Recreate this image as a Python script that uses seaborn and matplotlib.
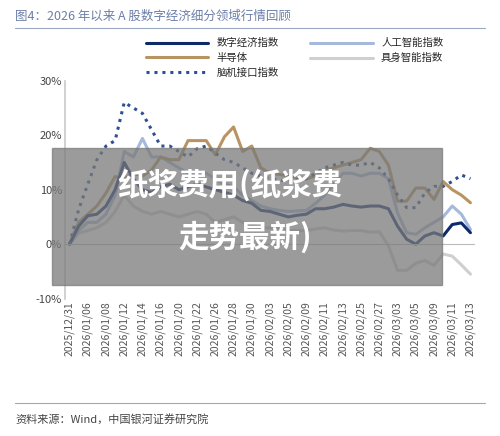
import matplotlib
matplotlib.use("Agg")
import matplotlib.pyplot as plt
import seaborn as sns
import pandas as pd
import numpy as np
from matplotlib.patches import Rectangle

sns.set_theme(style="white")
plt.rcParams['font.family'] = ['Noto Sans CJK SC', 'DejaVu Sans']

tick_labels = ["2025/12/31","2026/01/06","2026/01/08","2026/01/12","2026/01/14","2026/01/16",
               "2026/01/20","2026/01/22","2026/01/26","2026/01/28","2026/01/30","2026/02/03",
               "2026/02/05","2026/02/09","2026/02/11","2026/02/13","2026/02/25","2026/02/27",
               "2026/03/03","2026/03/05","2026/03/09","2026/03/11","2026/03/13"]
digital = [0,3.3,5.2,5.5,7,10,15,12,10,9.5,10.5,11,10,10.5,11,10.5,10,9.5,9,8,7.5,6.2,6,5.5,5,5.3,5.5,6.5,6.5,6.8,7.3,7,6.8,7,7,6.5,3.3,0.9,0,1.5,2.1,1.5,3.6,3.9,2.1]
ai = [0,2.5,4,4,5.5,9,17,16,19.4,16,16,15,14,13,13.5,13,12,11,10.5,9,8,7,6.5,6.2,6,6.1,6.2,7.5,9,11,13,13,12.5,13,13,12,5.7,2.1,1.8,3,4,5,7,5.5,2.7]
semi = [0,4,5.5,7,9.4,12.4,12,13,12.5,13.6,16,15.5,15.5,19,19,19,16.4,19.7,21.5,17,18,14,13,12.8,12.5,12.2,12,12.5,13.5,14,14.5,15,15.5,17.6,17,14.5,7.9,7.9,10.3,10.3,8.2,11.5,10,9,7.6]
embodied = [0,2,2.5,3,4,6,9,7,6,5.5,6,5.5,5,5.5,6,5.5,4,4.5,5,4,3.5,3,3,2.8,2.5,2.5,2.5,2.8,3,2.6,2.4,2.5,2.5,2.2,2.3,-0.3,-4.8,-4.8,-3.5,-3,-3.9,-1.8,-2.2,-3.8,-5.5]
bci = [0,6.4,11,15.5,18,19,26,25,24,21,18,18,17,16,17.5,18,16.7,15.5,15,14,13,12.5,12,11.8,11.5,11.8,12,13,14,14.5,15,14.5,14.5,15,14,12,9,6.7,6.7,9.4,10.6,10.6,11.5,12.7,12]
series_names = ["数字经济指数","人工智能指数","半导体","具身智能指数","脑机接口指数"]

n = len(digital)
df = pd.DataFrame({"i": np.arange(n)})
for nm, v in zip(series_names, [digital, ai, semi, embodied, bci]):
    df[nm] = np.array(v) / 100
long = df.melt(id_vars="i", var_name="s", value_name="v")

fig = plt.figure(figsize=(5.0, 4.36), dpi=100)
ax = fig.add_axes([0.13, 0.315, 0.82, 0.5])
palette = {"数字经济指数": "#0d2a6b", "人工智能指数": "#a5b9dc", "半导体": "#b99463",
           "具身智能指数": "#cfcfcf", "脑机接口指数": "#2e4f94"}
order = ["具身智能指数", "人工智能指数", "半导体", "数字经济指数", "脑机接口指数"]
for nm in order:
    d = long[long.s == nm]
    ls = (0, (1, 1.6)) if nm == "脑机接口指数" else "-"
    sns.lineplot(data=d, x="i", y="v", color=palette[nm], lw=2.2, linestyle=ls, ax=ax, label=nm)

ax.set_xlim(-0.5, n - 0.5)
ax.set_ylim(-0.1, 0.3)
ax.set_yticks([-0.1, 0, 0.1, 0.2, 0.3])
ax.set_yticklabels(["-10%", "0%", "10%", "20%", "30%"], fontsize=8, color="#444")
ax.set_xticks(np.arange(0, n, 2))
ax.set_xticklabels(tick_labels, rotation=90, fontsize=7.5, color="#555")
ax.axhline(0, color="#bbbbbb", lw=0.8)
for s in ["top", "right", "bottom"]:
    ax.spines[s].set_visible(False)
ax.spines["left"].set_color("#cccccc")
ax.set_xlabel(""); ax.set_ylabel("")
ax.tick_params(axis="both", length=0, pad=2)

h, l = ax.get_legend_handles_labels()
m = dict(zip(l, h))
leg_order = ["数字经济指数", "半导体", "脑机接口指数", "人工智能指数", "具身智能指数"]
ax.legend([m[k] for k in leg_order], leg_order, ncol=2, fontsize=7.5, frameon=False,
          loc="lower center", bbox_to_anchor=(0.56, 0.97), columnspacing=3, handlelength=6,
          labelspacing=0.45)

fig.text(0.03, 0.955, "图4：2026 年以来 A 股数字经济细分领域行情回顾", fontsize=9, color="#6b7fa8")
fig.add_artist(plt.Line2D([0.03, 0.97], [0.935, 0.935], color="#9aa8c4", lw=0.8))
fig.add_artist(plt.Line2D([0.03, 0.97], [0.075, 0.075], color="#9aa8c4", lw=0.8))
fig.text(0.03, 0.03, "资料来源：Wind，中国银河证券研究院", fontsize=8, color="#444", style="italic")

fig.add_artist(Rectangle((0.104, 0.346), 0.78, 0.314, transform=fig.transFigure,
                         color="#7a7a7a", alpha=0.75, zorder=10))
fig.text(0.46, 0.575, "纸浆费用(纸浆费", fontsize=22, color="white", weight="bold",
         ha="center", va="center", zorder=11)
fig.text(0.49, 0.455, "走势最新)", fontsize=22, color="white", weight="bold",
         ha="center", va="center", zorder=11)

fig.savefig("out.png", dpi=100)
